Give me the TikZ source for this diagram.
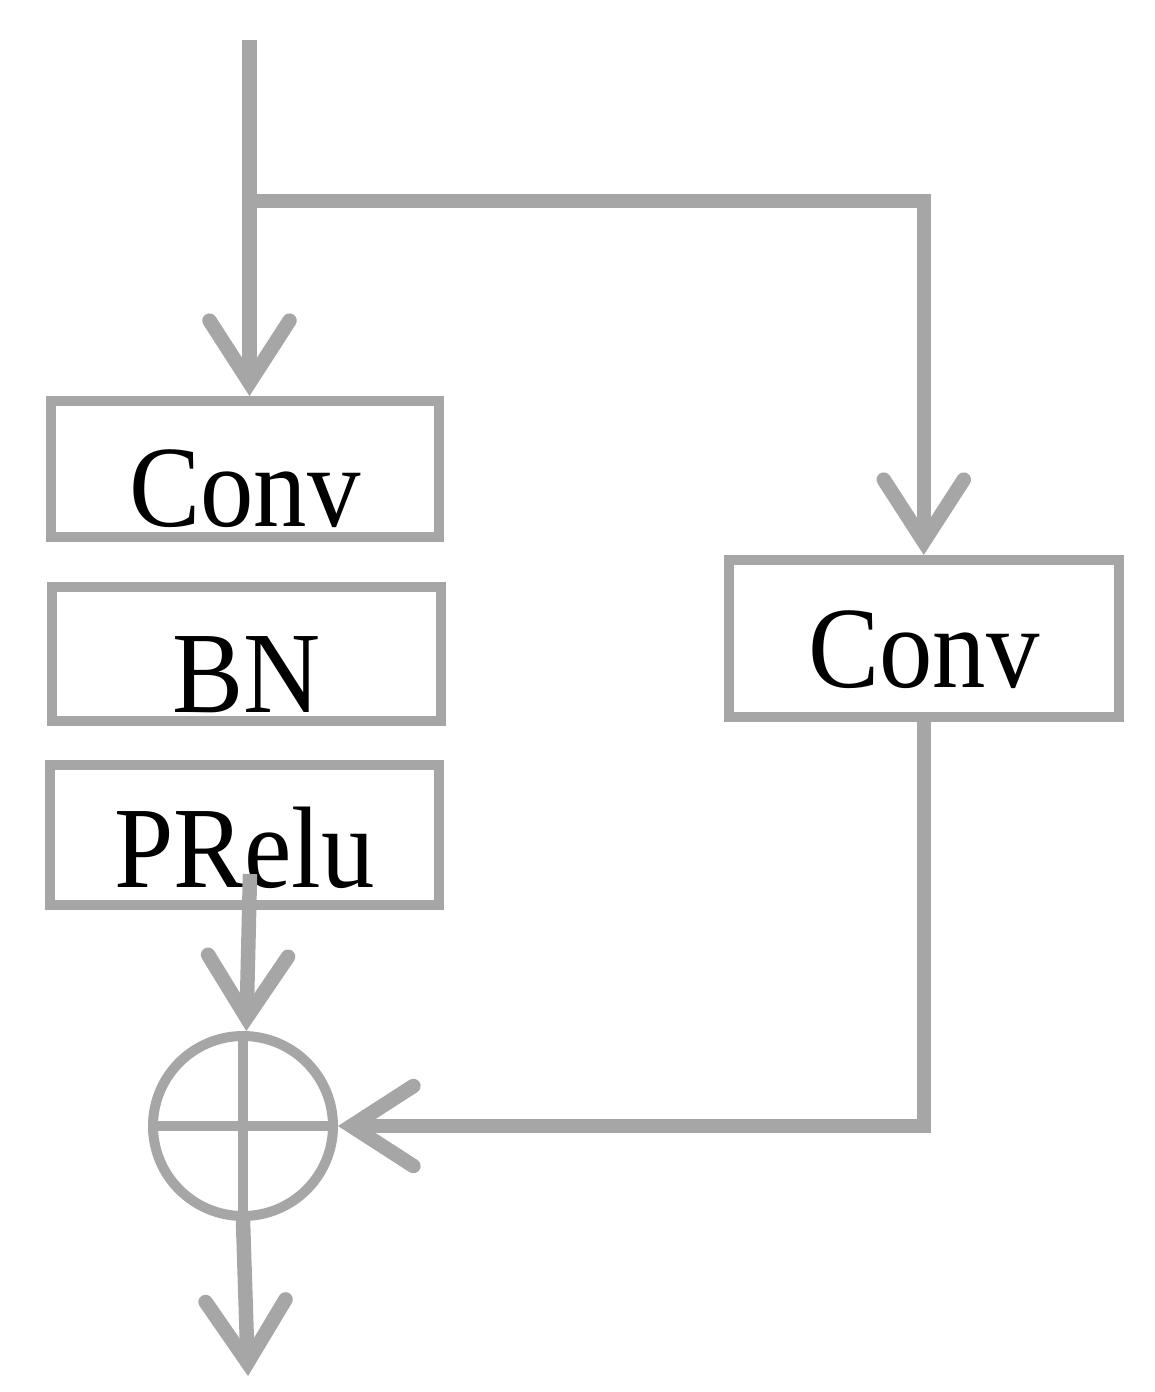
\documentclass[tikz,border=0pt]{standalone}
\usepackage{fontspec}
\setmainfont{Liberation Serif}[FakeStretch=0.92]
\usetikzlibrary{arrows.meta}
\definecolor{linegray}{RGB}{166,166,166}
\begin{document}
\begin{tikzpicture}[x=1pt,y=-1pt,
  box/.style={draw=linegray, line width=10pt, inner xsep=0pt, inner ysep=0pt,
    font=\fontsize{116}{130}\selectfont, text=black},
  conn/.style={draw=linegray, line width=14.5pt,
    -{Straight Barb[length=62pt,width=80pt,line cap=round]}}]
\useasboundingbox (0,0) rectangle (1155,1392);
% blocks
\node[box, minimum width=388.5pt, text height=125pt, text depth=11pt] (conv1) at (244.75,469) {Conv};
\node[box, minimum width=389.5pt, text height=125pt, text depth=9pt] (bn) at (246.25,654) {BN};
\node[box, minimum width=389pt, text height=122pt, text depth=17.5pt] (prelu) at (244.5,834.75) {PRelu};
\node[box, minimum width=389.5pt, text height=127pt, text depth=30pt] (conv2) at (923.75,638.5) {Conv};
\node[circle, draw=linegray, line width=10pt, minimum size=180pt, inner sep=0pt,
  path picture={\draw[linegray, line width=10pt]
    (path picture bounding box.north) -- (path picture bounding box.south)
    (path picture bounding box.west) -- (path picture bounding box.east);}] (sum) at (243,1126) {};
% free ends
\coordinate (in) at (249.5,40);
\coordinate (split) at (249.5,201);
\coordinate (pout) at (250,874);
\coordinate (out) at (248,1376);
% connectors
\draw[conn] (in) -- (in |- conv1.north);
\draw[conn] (split) -| (conv2.north);
\draw[conn] (conv2.south) |- (sum.east);
\draw[conn] (pout) -- (sum.88);
\draw[conn] (sum.south) -- (out);
\end{tikzpicture}
\end{document}
